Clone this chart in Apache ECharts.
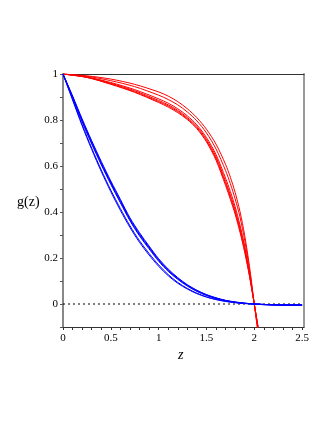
<!DOCTYPE html>
<html>
<head>
<meta charset="utf-8">
<script src="https://cdn.jsdelivr.net/npm/echarts@6/dist/echarts.min.js"></script>
<style>
  html, body { margin: 0; padding: 0; background: #fff; }
  #chart { width: 332px; height: 430px; }
</style>
</head>
<body>
<div id="chart"></div>
<script>
// z samples for the red family
const redZ = [0, 0.25, 0.5, 0.75, 1.0, 1.1, 1.2, 1.3, 1.4, 1.5, 1.6, 1.7, 1.75, 1.8, 1.85, 1.9, 1.95, 2.0, 2.04];
const red1 = [1, 0.992, 0.978, 0.955, 0.922, 0.904, 0.88, 0.849, 0.81, 0.76, 0.695, 0.607, 0.551, 0.485, 0.403, 0.298, 0.163, 0, -0.13];
const red2 = [1, 0.99, 0.971, 0.945, 0.908, 0.889, 0.866, 0.835, 0.796, 0.744, 0.674, 0.58, 0.523, 0.457, 0.379, 0.276, 0.15, 0, -0.12];
const red3 = [1, 0.987, 0.963, 0.932, 0.892, 0.873, 0.849, 0.818, 0.779, 0.724, 0.65, 0.547, 0.489, 0.423, 0.344, 0.251, 0.135, 0, -0.11];
const red4 = [1, 0.986, 0.96, 0.927, 0.885, 0.866, 0.842, 0.811, 0.772, 0.716, 0.64, 0.533, 0.474, 0.409, 0.331, 0.24, 0.129, 0, -0.105];
const red5 = [1, 0.9855, 0.957, 0.923, 0.88, 0.861, 0.837, 0.806, 0.767, 0.71, 0.632, 0.524, 0.464, 0.399, 0.322, 0.232, 0.124, 0, -0.1];
const red6 = [1, 0.985, 0.955, 0.92, 0.876, 0.856, 0.832, 0.802, 0.762, 0.705, 0.625, 0.515, 0.455, 0.39, 0.313, 0.225, 0.12, 0, -0.1];

// z samples for the blue family
const blueZ = [0, 0.1, 0.2, 0.3, 0.4, 0.5, 0.6, 0.7, 0.8, 0.9, 1.0, 1.1, 1.2, 1.3, 1.4, 1.5, 1.6, 1.7, 1.8, 1.9, 2.0, 2.1, 2.2, 2.3, 2.4, 2.5];
const blue1 = [1, 0.905, 0.805, 0.71, 0.62, 0.535, 0.455, 0.375, 0.31, 0.252, 0.197, 0.152, 0.115, 0.084, 0.06, 0.041, 0.027, 0.016, 0.009, 0.004, 0, -0.002, -0.003, -0.003, -0.003, -0.003];
const blue2 = [1, 0.902, 0.8, 0.705, 0.615, 0.53, 0.45, 0.37, 0.305, 0.248, 0.193, 0.148, 0.112, 0.082, 0.058, 0.04, 0.026, 0.015, 0.008, 0.003, 0, -0.002, -0.003, -0.004, -0.004, -0.004];
const blue3 = [1, 0.9, 0.796, 0.7, 0.61, 0.525, 0.445, 0.366, 0.3, 0.244, 0.19, 0.145, 0.11, 0.08, 0.056, 0.038, 0.025, 0.015, 0.008, 0.003, 0, -0.003, -0.004, -0.005, -0.005, -0.005];
const blue4 = [1, 0.898, 0.792, 0.696, 0.605, 0.52, 0.44, 0.362, 0.296, 0.24, 0.186, 0.142, 0.107, 0.078, 0.055, 0.037, 0.024, 0.014, 0.007, 0.003, 0, -0.003, -0.005, -0.006, -0.006, -0.006];
const blue5 = [1, 0.89, 0.78, 0.678, 0.583, 0.495, 0.415, 0.34, 0.275, 0.22, 0.17, 0.128, 0.094, 0.068, 0.047, 0.031, 0.02, 0.012, 0.006, 0.002, 0, -0.002, -0.003, -0.004, -0.004, -0.004];
const blue6 = [1, 0.887, 0.775, 0.672, 0.576, 0.488, 0.407, 0.333, 0.268, 0.213, 0.164, 0.123, 0.09, 0.065, 0.045, 0.03, 0.019, 0.011, 0.006, 0.002, 0, -0.002, -0.003, -0.004, -0.004, -0.004];

// dotted zero line
const zeroLineZ = [0, 2.5];
const zeroLineG = [0, 0];

const FONT = "Liberation Serif";

const pair = (xs, ys) => xs.map((x, i) => [x, ys[i]]);

const curve = (data, color) => ({
  type: "line",
  data: data,
  showSymbol: false,
  smooth: 0.3,
  clip: true,
  lineStyle: { color: color, width: 1 },
  silent: true,
});

const chart = echarts.init(document.getElementById("chart"));
const option = {
  animation: false,
  grid: { left: 63, right: 28, top: 74, bottom: 103 },
  xAxis: [
    {
      type: "value",
      min: 0,
      max: 2.52,
      interval: 0.1,
      axisLine: { onZero: false, lineStyle: { color: "#333", width: 1 } },
      axisTick: { length: 3, lineStyle: { color: "#333" } },
      splitLine: { show: false },
      axisLabel: {
        margin: 6,
        color: "#000",
        fontFamily: FONT,
        fontSize: 11,
        formatter: (v) => (Math.round(v * 10) % 5 === 0 ? String(Math.round(v * 10) / 10) : ""),
      },
    },
    {
      type: "value",
      position: "top",
      min: 0,
      max: 2.52,
      axisLine: { show: true, onZero: false, lineStyle: { color: "#333", width: 1 } },
      axisTick: { show: false },
      axisLabel: { show: false },
      splitLine: { show: false },
    },
  ],
  yAxis: [
    {
      type: "value",
      min: -0.1,
      max: 1,
      interval: 0.1,
      axisLine: { show: true, onZero: false, lineStyle: { color: "#888", width: 2 } },
      axisTick: { show: true, length: 3, lineStyle: { color: "#555" } },
      splitLine: { show: false },
      axisLabel: {
        margin: 5,
        color: "#000",
        fontFamily: FONT,
        fontSize: 11,
        formatter: (v) => {
          const k = Math.round(v * 10);
          return k >= 0 && k % 2 === 0 ? String(k / 10) : "";
        },
      },
    },
    {
      type: "value",
      position: "right",
      min: -0.1,
      max: 1,
      axisLine: { show: true, onZero: false, lineStyle: { color: "#999", width: 2 } },
      axisTick: { show: false },
      axisLabel: { show: false },
      splitLine: { show: false },
    },
  ],
  graphic: [
    {
      type: "text",
      left: 17,
      top: 195,
      style: { text: "g(z)", fontFamily: FONT, fontSize: 14, fill: "#000" },
    },
    {
      type: "text",
      left: 178,
      top: 348,
      style: { text: "z", fontFamily: FONT, fontStyle: "italic", fontSize: 14, fill: "#000" },
    },
  ],
  series: [
    {
      type: "line",
      data: pair(zeroLineZ, zeroLineG),
      showSymbol: false,
      silent: true,
      lineStyle: { color: "#000", width: 1, type: [2, 3] },
    },
    curve(pair(redZ, red1), "#ff0000"),
    curve(pair(redZ, red2), "#ff0000"),
    curve(pair(redZ, red3), "#ff0000"),
    curve(pair(redZ, red4), "#ff0000"),
    curve(pair(redZ, red5), "#ff0000"),
    curve(pair(redZ, red6), "#ff0000"),
    curve(pair(blueZ, blue1), "#0000ff"),
    curve(pair(blueZ, blue2), "#0000ff"),
    curve(pair(blueZ, blue3), "#0000ff"),
    curve(pair(blueZ, blue4), "#0000ff"),
    curve(pair(blueZ, blue5), "#0000ff"),
    curve(pair(blueZ, blue6), "#0000ff"),
  ],
};
chart.setOption(option);
</script>
</body>
</html>
